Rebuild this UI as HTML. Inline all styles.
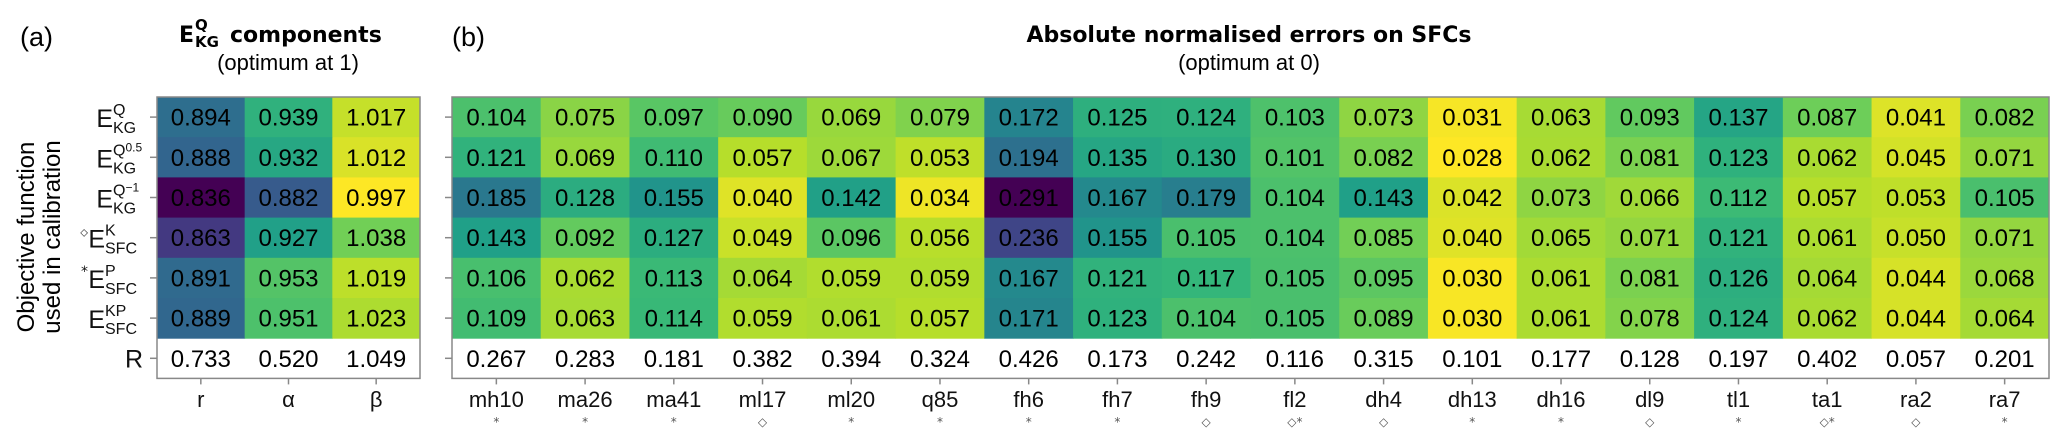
<!DOCTYPE html>
<html><head><meta charset="utf-8"><style>
html,body{margin:0;padding:0;background:#fff;}
svg{display:block;font-family:"Liberation Sans",sans-serif;}
</style></head><body>
<svg id="chart" width="2067" height="443" viewBox="0 0 2067 443" xmlns="http://www.w3.org/2000/svg">
<text x="20" y="46" font-size="27">(a)</text>
<text x="452" y="46" font-size="27">(b)</text>
<g font-family="DejaVu Sans,sans-serif">
<text x="179" y="42" font-size="22" font-weight="bold">E</text>
<text x="195" y="30" font-size="15" font-weight="bold">Q</text>
<text x="195" y="47" font-size="15" font-weight="bold">KG</text>
<text x="230" y="42" font-size="22" font-weight="bold">components</text>
<text x="288" y="70" font-size="22" text-anchor="middle" font-family="Liberation Sans,sans-serif">(optimum at 1)</text>
</g>
<g font-family="DejaVu Sans,sans-serif">
<text x="1249" y="42" font-size="22" font-weight="bold" text-anchor="middle">Absolute normalised errors on SFCs</text>
<text x="1249" y="70" font-size="22" text-anchor="middle" font-family="Liberation Sans,sans-serif">(optimum at 0)</text>
</g>
<g font-size="24">
<text transform="translate(34,237) rotate(-90)" text-anchor="middle">Objective function</text>
<text transform="translate(60,237) rotate(-90)" text-anchor="middle">used in calibration</text>
</g>
<g id="ylabels" fill="#111"></g>
<g id="pa"></g>
<g id="pb"></g>
</svg>
<script>
const rowSup = ["Q","Q0.5","Q\u22121","K","P","KP"];
const rowSub = ["KG","KG","KG","SFC","SFC","SFC"];
const rowPrefix = ["","","","\u25CB","*",""];
const compCats = ["r","α","β"];
const compVals = [
 [0.894,0.939,1.017],[0.888,0.932,1.012],[0.836,0.882,0.997],
 [0.863,0.927,1.038],[0.891,0.953,1.019],[0.889,0.951,1.023]];
const compR = [0.733,0.520,1.049];
const sfcCats = ["mh10","ma26","ma41","ml17","ml20","q85","fh6","fh7","fh9","fl2","dh4","dh13","dh16","dl9","tl1","ta1","ra2","ra7"];
const sfcMarks = ["*","*","*","◇","*","*","*","*","◇","◇*","◇","*","*","◇","*","◇*","◇","*"];
const sfcVals = [
 [0.104,0.075,0.097,0.090,0.069,0.079,0.172,0.125,0.124,0.103,0.073,0.031,0.063,0.093,0.137,0.087,0.041,0.082],
 [0.121,0.069,0.110,0.057,0.067,0.053,0.194,0.135,0.130,0.101,0.082,0.028,0.062,0.081,0.123,0.062,0.045,0.071],
 [0.185,0.128,0.155,0.040,0.142,0.034,0.291,0.167,0.179,0.104,0.143,0.042,0.073,0.066,0.112,0.057,0.053,0.105],
 [0.143,0.092,0.127,0.049,0.096,0.056,0.236,0.155,0.105,0.104,0.085,0.040,0.065,0.071,0.121,0.061,0.050,0.071],
 [0.106,0.062,0.113,0.064,0.059,0.059,0.167,0.121,0.117,0.105,0.095,0.030,0.061,0.081,0.126,0.064,0.044,0.068],
 [0.109,0.063,0.114,0.059,0.061,0.057,0.171,0.123,0.104,0.105,0.089,0.030,0.061,0.078,0.124,0.062,0.044,0.064]];
const sfcR = [0.267,0.283,0.181,0.382,0.394,0.324,0.426,0.173,0.242,0.116,0.315,0.101,0.177,0.128,0.197,0.402,0.057,0.201];

const NS="http://www.w3.org/2000/svg";
const VIR=["#440154","#482878","#3e4989","#31688e","#26828e","#1f9e89","#35b779","#6ece58","#b5de2b","#fde725"];
function hex(h){return [1,3,5].map(i=>parseInt(h.substr(i,2),16));}
function viridis(t){t=Math.max(0,Math.min(1,t));const f=t*(VIR.length-1);const i=Math.min(Math.floor(f),VIR.length-2);const u=f-i;const a=hex(VIR[i]),b=hex(VIR[i+1]);return "rgb("+a.map((v,k)=>Math.round(v+(b[k]-v)*u)).join(",")+")";}
function el(tag,attrs,parent){const e=document.createElementNS(NS,tag);for(const k in attrs)e.setAttribute(k,attrs[k]);parent.appendChild(e);return e;}
const TOP=97,RH=40.2,BOTTOM=TOP+RH*7;
function yPos(r){return TOP+r*RH;}

function panel(g,x0,x1,cats,vals,Rrow,dist,marks,prefix){
  const cw=(x1-x0)/cats.length;
  const xPos=c=>x0+c*cw;
  const flat=vals.flat().map(dist);
  const mn=Math.min(...flat),mx=Math.max(...flat);
  vals.forEach((row,r)=>row.forEach((v,c)=>{
    const t=1-(dist(v)-mn)/(mx-mn);
    const rc=el("rect",{x:xPos(c),y:yPos(r),width:cw+0.5,height:RH+0.5,fill:viridis(t)},g);
    
    
    const tx=el("text",{x:xPos(c)+cw/2,y:yPos(r)+RH/2+8.5,"font-size":24,"text-anchor":"middle",fill:"#000"},g);
    tx.textContent=v.toFixed(3);
    
    
  }));
  Rrow.forEach((v,c)=>{
    const tx=el("text",{x:xPos(c)+cw/2,y:yPos(6)+RH/2+8.5,"font-size":24,"text-anchor":"middle",fill:"#000"},g);
    tx.textContent=v.toFixed(3);
    
    
  });
  const bd=el("rect",{x:x0,y:TOP,width:x1-x0,height:BOTTOM-TOP,fill:"none",stroke:"#888","stroke-width":1.5},g);
  
  
  for(let r=0;r<7;r++){el("line",{x1:x0-7,x2:x0,y1:yPos(r)+RH/2,y2:yPos(r)+RH/2,stroke:"#888","stroke-width":1.5},g);}
  cats.forEach((c,i)=>{
    const cx=xPos(i)+cw/2;
    el("line",{x1:cx,x2:cx,y1:BOTTOM,y2:BOTTOM+6,stroke:"#888","stroke-width":1.5},g);
    const t=el("text",{x:cx,y:407,"font-size":22,"text-anchor":"middle",fill:"#111"},g);
    t.textContent=c;
    
    
    if(marks){
      const m=el("text",{x:cx,y:426,"font-size":12,"text-anchor":"middle",fill:"#555","font-family":"DejaVu Sans,sans-serif"},g);
      m.textContent=marks[i];
      
      
    }
  });
}
panel(document.getElementById("pa"),157,420,compCats,compVals,compR,v=>Math.abs(1-v),null,"comp");
panel(document.getElementById("pb"),452,2049,sfcCats,sfcVals,sfcR,v=>v,sfcMarks,"sfc");

const yl=document.getElementById("ylabels");
rowSup.forEach((s,r)=>{
  const cy=yPos(r)+RH/2;
  const sfc=rowSub[r]==="SFC";
  const ex=sfc?105:113;
  const E=el("text",{x:ex,y:cy+10,"font-size":25,"text-anchor":"end"},yl);
  E.textContent="E";
  
  
  const sp=el("text",{x:ex,y:cy-2,"font-size":16},yl);
  sp.textContent=s.replace("0.5","").replace("\u22121","");
  if(s.length>1&&s!=="KP"){const ts=el("tspan",{"font-size":12,dy:-4},sp);ts.textContent=s.slice(1);}
  else if(s==="KP"){sp.textContent="KP";}
  
  
  const sb=el("text",{x:ex,y:cy+16,"font-size":16},yl);
  sb.textContent=rowSub[r];
  
  
  if(rowPrefix[r]){
    const p=el("text",{x:ex-17,y:cy-2,"font-size":r===3?10:14,"text-anchor":"end","font-family":"DejaVu Sans,sans-serif"},yl);
    p.textContent=r===3?"◇":"*";
    
    
  }
});
const Rl=el("text",{x:143,y:yPos(6)+RH/2+9,"font-size":25,"text-anchor":"end"},yl);
Rl.textContent="R";


</script>
</body></html>
